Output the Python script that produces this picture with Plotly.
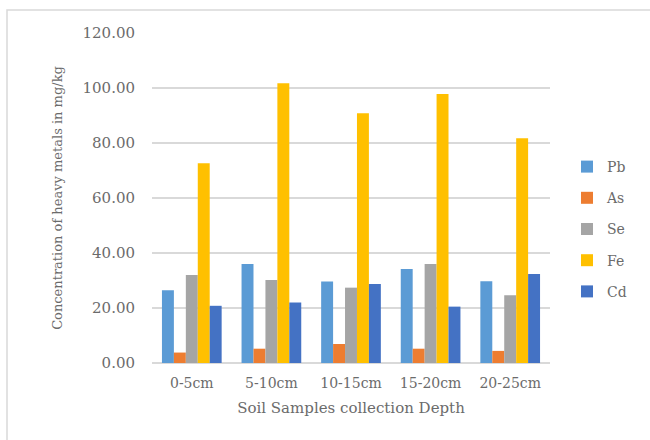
import plotly.graph_objects as go

# Sampling depths and metal concentrations (mg/kg)
depths = ["0-5cm", "5-10cm", "10-15cm", "15-20cm", "20-25cm"]
pb = [26.5, 36.0, 29.6, 34.2, 29.7]
as_ = [3.8, 5.2, 6.9, 5.2, 4.4]
se = [32.0, 30.2, 27.4, 36.0, 24.6]
fe = [72.6, 101.7, 90.8, 97.8, 81.7]
cd = [20.8, 22.0, 28.7, 20.5, 32.4]

series = [
    ("Pb", pb, "#5B9BD5"),
    ("As", as_, "#ED7D31"),
    ("Se", se, "#A5A5A5"),
    ("Fe", fe, "#FFC000"),
    ("Cd", cd, "#4472C4"),
]

FONT = "DejaVu Serif"
TEXT = "#6b6b6b"
GRID = "#D9D9D9"

fig = go.Figure()
for name, vals, color in series:
    fig.add_trace(go.Bar(
        x=depths, y=vals, name=name, legendgroup=name,
        marker=dict(color=color, line=dict(width=0)),
    ))

W, H = 650, 440
L, R, T, B = 152, 100, 33, 77
pw, ph = W - L - R, H - T - B

def px_x(x):
    return (x - L) / pw

def px_y(y):
    return (H - B - y) / ph

fig.update_layout(
    width=W, height=H,
    margin=dict(l=L, r=R, t=T, b=B, autoexpand=False),
    paper_bgcolor="white", plot_bgcolor="white",
    barmode="group", bargap=0.25, bargroupgap=0,
    font=dict(family=FONT, color=TEXT, size=14),
    showlegend=True,
    legend=dict(
        x=px_x(567), y=px_y(151), xanchor="left", yanchor="top",
        font=dict(family=FONT, size=14, color=TEXT),
        tracegroupgap=10, itemwidth=30,
        bgcolor="rgba(0,0,0,0)",
    ),
    xaxis=dict(
        showgrid=False, showline=False, zeroline=False, ticks="",
        ticklabelstandoff=10,
        tickfont=dict(family=FONT, size=14, color=TEXT),
        title=dict(text="Soil Samples collection Depth",
                   font=dict(family=FONT, size=15, color=TEXT), standoff=12),
    ),
    yaxis=dict(
        range=[0, 120], dtick=20, tickformat=".2f",
        showgrid=True, gridcolor=GRID, gridwidth=1.5,
        zeroline=True, zerolinecolor=GRID, zerolinewidth=1.5,
        showline=False, ticks="", ticklabelstandoff=16,
        tickfont=dict(family=FONT, size=15, color=TEXT),
        title=dict(text="Concentration of heavy metals in mg/kg",
                   font=dict(family=FONT, size=13, color=TEXT), standoff=16),
    ),
    shapes=[dict(
        type="rect", xref="paper", yref="paper",
        x0=px_x(7), x1=px_x(660), y0=px_y(10), y1=px_y(460),
        line=dict(color=GRID, width=1.5), fillcolor="rgba(0,0,0,0)",
        layer="below",
    )],
)

fig.write_html("out.html")
